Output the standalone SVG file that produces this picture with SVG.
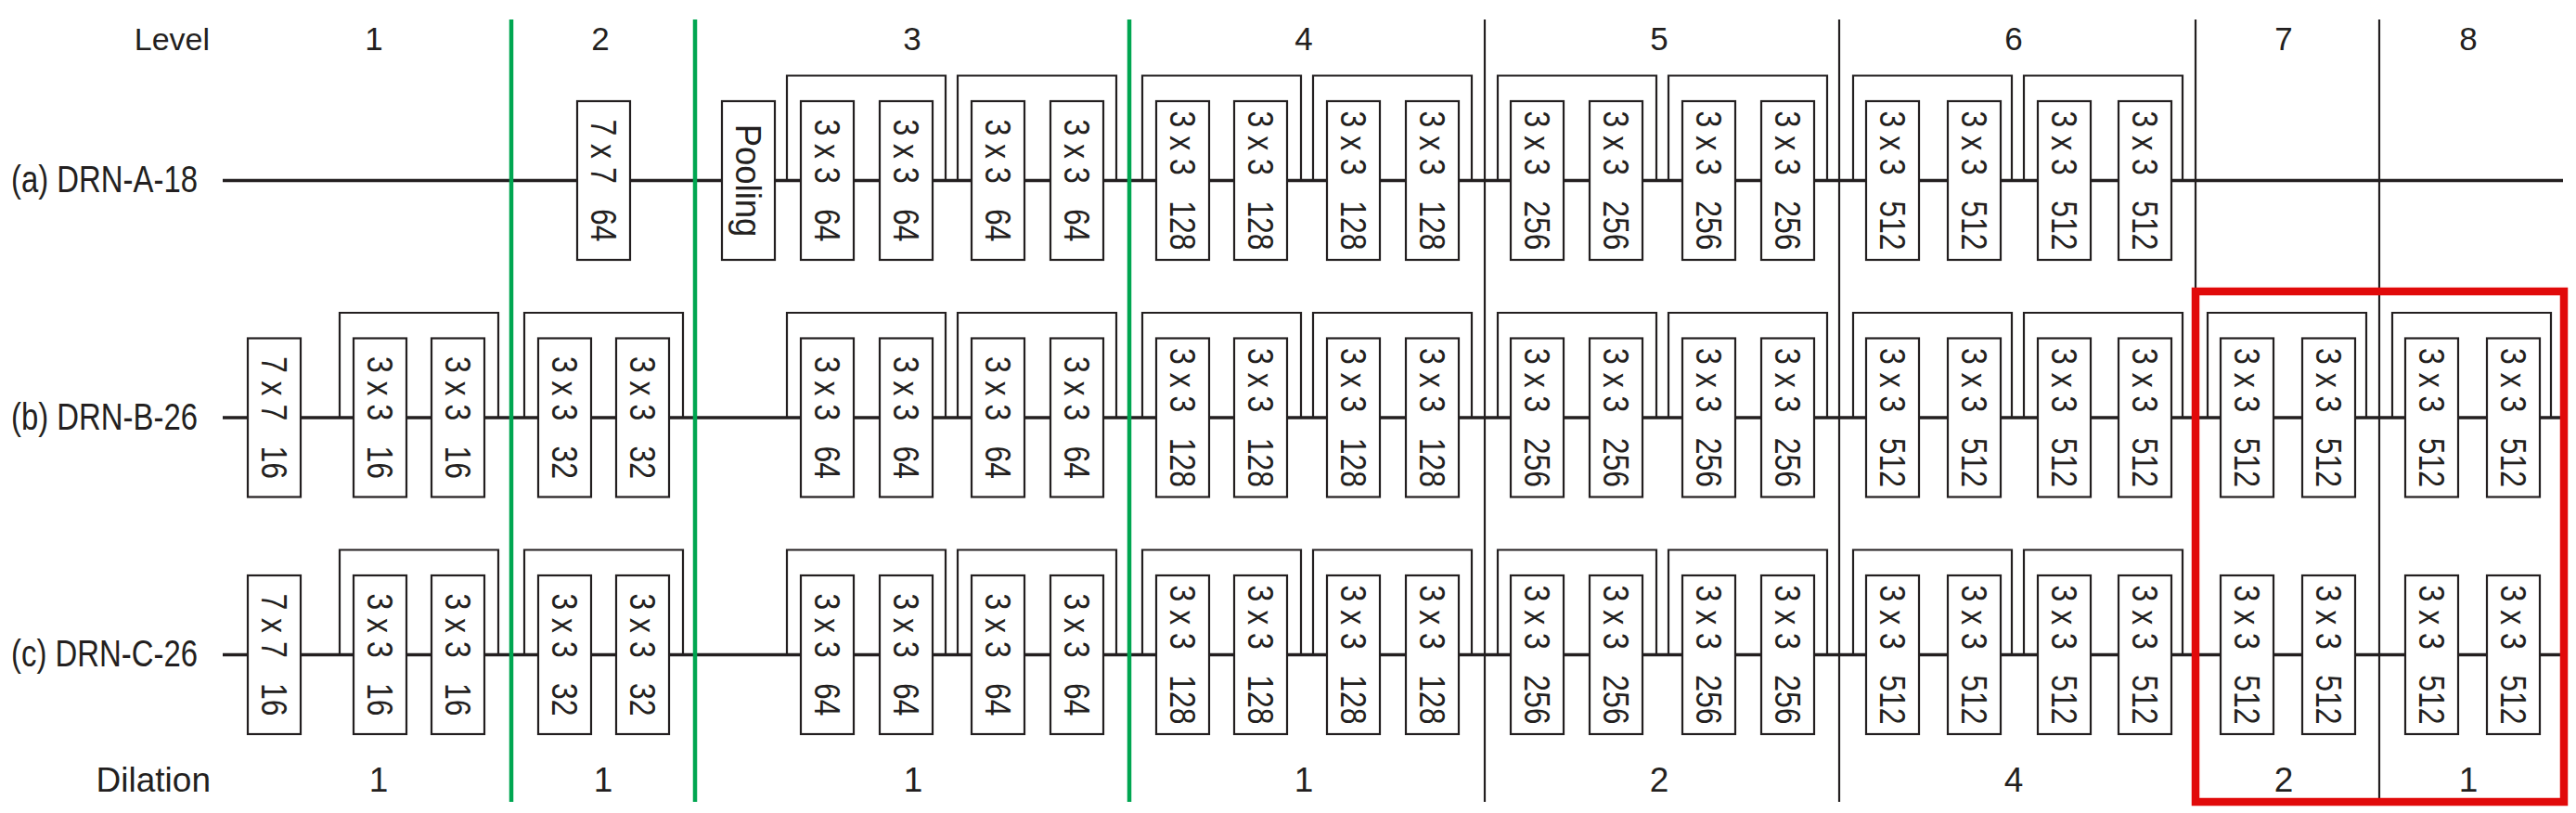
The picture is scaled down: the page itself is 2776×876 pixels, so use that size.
<svg xmlns="http://www.w3.org/2000/svg" xmlns:xlink="http://www.w3.org/1999/xlink" width="2776" height="876" viewBox="0 0 2776 876">
<style>
.ln{stroke:#231f20;stroke-width:3.4;fill:none}
.br{stroke:#231f20;stroke-width:2.2;fill:none}
.bx{fill:#fff;stroke:#231f20;stroke-width:2.2}
.t{font-family:"Liberation Sans",Arial,sans-serif;font-size:38px;fill:#231f20;text-anchor:middle}
.lab{font-family:"Liberation Sans",Arial,sans-serif;font-size:35px;fill:#231f20;text-anchor:middle}
.dil{font-size:37px}
.rl{font-family:"Liberation Sans",Arial,sans-serif;font-size:41px;fill:#231f20}
.g{stroke:#00a651;stroke-width:4.5}
.k{stroke:#231f20;stroke-width:2.2}
.red{fill:none;stroke:#e10a0a;stroke-width:8.5}
</style>
<defs>
<rect id="box" class="bx" width="57" height="171"/>
</defs>
<rect width="2776" height="876" fill="#fff"/>
<g id="connectors">
<path class="ln" d="M240 194.5H2762M240 450H2762M240 705.5H2762"/>
<path class="br" d="M848 194.5V81.5H1019V194.5M1032 194.5V81.5H1203V194.5M1231 194.5V81.5H1402V194.5M1415 194.5V81.5H1586V194.5M1614 194.5V81.5H1785V194.5M1798 194.5V81.5H1969V194.5M1997 194.5V81.5H2168V194.5M2181 194.5V81.5H2352V194.5"/>
<path class="br" d="M366 450V337H537V450M565 450V337H736V450M848 450V337H1019V450M1032 450V337H1203V450M1231 450V337H1402V450M1415 450V337H1586V450M1614 450V337H1785V450M1798 450V337H1969V450M1997 450V337H2168V450M2181 450V337H2352V450M2379 450V337H2550V450M2578 450V337H2749V450"/>
<path class="br" d="M366 705.5V592.5H537V705.5M565 705.5V592.5H736V705.5M848 705.5V592.5H1019V705.5M1032 705.5V592.5H1203V705.5M1231 705.5V592.5H1402V705.5M1415 705.5V592.5H1586V705.5M1614 705.5V592.5H1785V705.5M1798 705.5V592.5H1969V705.5M1997 705.5V592.5H2168V705.5M2181 705.5V592.5H2352V705.5"/>
</g>
<g id="level-lines">
<line class="g" x1="551" y1="21" x2="551" y2="864"/>
<line class="g" x1="749" y1="21" x2="749" y2="864"/>
<line class="g" x1="1217" y1="21" x2="1217" y2="864"/>
<line class="k" x1="1600" y1="21" x2="1600" y2="864"/>
<line class="k" x1="1982" y1="21" x2="1982" y2="864"/>
<line class="k" x1="2366" y1="21" x2="2366" y2="864"/>
<line class="k" x1="2564" y1="21" x2="2564" y2="864"/>
</g>
<g id="row-a">
<g id="a-conv1"><use xlink:href="#box" x="622" y="109"/><text class="t" transform="translate(650.5,194.5) rotate(90) scale(0.84,1)" y="13.6">7 x 7<tspan dx="22"> 64</tspan></text></g>
<g id="a-pool"><use xlink:href="#box" x="778" y="109"/><text class="t" transform="translate(806.5,194.5) rotate(90) scale(0.96,1)" y="13.6">Pooling</text></g>
<g id="a-l3-1"><use xlink:href="#box" x="863" y="109"/><text class="t" transform="translate(891.5,194.5) rotate(90) scale(0.84,1)" y="13.6">3 x 3<tspan dx="22"> 64</tspan></text></g>
<g id="a-l3-2"><use xlink:href="#box" x="948" y="109"/><text class="t" transform="translate(976.5,194.5) rotate(90) scale(0.84,1)" y="13.6">3 x 3<tspan dx="22"> 64</tspan></text></g>
<g id="a-l3-3"><use xlink:href="#box" x="1047" y="109"/><text class="t" transform="translate(1075.5,194.5) rotate(90) scale(0.84,1)" y="13.6">3 x 3<tspan dx="22"> 64</tspan></text></g>
<g id="a-l3-4"><use xlink:href="#box" x="1132" y="109"/><text class="t" transform="translate(1160.5,194.5) rotate(90) scale(0.84,1)" y="13.6">3 x 3<tspan dx="22"> 64</tspan></text></g>
<g id="a-l4-1"><use xlink:href="#box" x="1246" y="109"/><text class="t" transform="translate(1274.5,194.5) rotate(90) scale(0.84,1)" y="13.6">3 x 3<tspan dx="22"> 128</tspan></text></g>
<g id="a-l4-2"><use xlink:href="#box" x="1330" y="109"/><text class="t" transform="translate(1358.5,194.5) rotate(90) scale(0.84,1)" y="13.6">3 x 3<tspan dx="22"> 128</tspan></text></g>
<g id="a-l4-3"><use xlink:href="#box" x="1430" y="109"/><text class="t" transform="translate(1458.5,194.5) rotate(90) scale(0.84,1)" y="13.6">3 x 3<tspan dx="22"> 128</tspan></text></g>
<g id="a-l4-4"><use xlink:href="#box" x="1515" y="109"/><text class="t" transform="translate(1543.5,194.5) rotate(90) scale(0.84,1)" y="13.6">3 x 3<tspan dx="22"> 128</tspan></text></g>
<g id="a-l5-1"><use xlink:href="#box" x="1628" y="109"/><text class="t" transform="translate(1656.5,194.5) rotate(90) scale(0.84,1)" y="13.6">3 x 3<tspan dx="22"> 256</tspan></text></g>
<g id="a-l5-2"><use xlink:href="#box" x="1713" y="109"/><text class="t" transform="translate(1741.5,194.5) rotate(90) scale(0.84,1)" y="13.6">3 x 3<tspan dx="22"> 256</tspan></text></g>
<g id="a-l5-3"><use xlink:href="#box" x="1813" y="109"/><text class="t" transform="translate(1841.5,194.5) rotate(90) scale(0.84,1)" y="13.6">3 x 3<tspan dx="22"> 256</tspan></text></g>
<g id="a-l5-4"><use xlink:href="#box" x="1898" y="109"/><text class="t" transform="translate(1926.5,194.5) rotate(90) scale(0.84,1)" y="13.6">3 x 3<tspan dx="22"> 256</tspan></text></g>
<g id="a-l6-1"><use xlink:href="#box" x="2011" y="109"/><text class="t" transform="translate(2039.5,194.5) rotate(90) scale(0.84,1)" y="13.6">3 x 3<tspan dx="22"> 512</tspan></text></g>
<g id="a-l6-2"><use xlink:href="#box" x="2099" y="109"/><text class="t" transform="translate(2127.5,194.5) rotate(90) scale(0.84,1)" y="13.6">3 x 3<tspan dx="22"> 512</tspan></text></g>
<g id="a-l6-3"><use xlink:href="#box" x="2196" y="109"/><text class="t" transform="translate(2224.5,194.5) rotate(90) scale(0.84,1)" y="13.6">3 x 3<tspan dx="22"> 512</tspan></text></g>
<g id="a-l6-4"><use xlink:href="#box" x="2283" y="109"/><text class="t" transform="translate(2311.5,194.5) rotate(90) scale(0.84,1)" y="13.6">3 x 3<tspan dx="22"> 512</tspan></text></g>
</g>
<g id="row-b">
<g id="b-conv1"><use xlink:href="#box" x="267" y="364.5"/><text class="t" transform="translate(295.5,450) rotate(90) scale(0.84,1)" y="13.6">7 x 7<tspan dx="22"> 16</tspan></text></g>
<g id="b-l1-1"><use xlink:href="#box" x="381" y="364.5"/><text class="t" transform="translate(409.5,450) rotate(90) scale(0.84,1)" y="13.6">3 x 3<tspan dx="22"> 16</tspan></text></g>
<g id="b-l1-2"><use xlink:href="#box" x="465" y="364.5"/><text class="t" transform="translate(493.5,450) rotate(90) scale(0.84,1)" y="13.6">3 x 3<tspan dx="22"> 16</tspan></text></g>
<g id="b-l2-1"><use xlink:href="#box" x="580" y="364.5"/><text class="t" transform="translate(608.5,450) rotate(90) scale(0.84,1)" y="13.6">3 x 3<tspan dx="22"> 32</tspan></text></g>
<g id="b-l2-2"><use xlink:href="#box" x="664" y="364.5"/><text class="t" transform="translate(692.5,450) rotate(90) scale(0.84,1)" y="13.6">3 x 3<tspan dx="22"> 32</tspan></text></g>
<g id="b-l3-1"><use xlink:href="#box" x="863" y="364.5"/><text class="t" transform="translate(891.5,450) rotate(90) scale(0.84,1)" y="13.6">3 x 3<tspan dx="22"> 64</tspan></text></g>
<g id="b-l3-2"><use xlink:href="#box" x="948" y="364.5"/><text class="t" transform="translate(976.5,450) rotate(90) scale(0.84,1)" y="13.6">3 x 3<tspan dx="22"> 64</tspan></text></g>
<g id="b-l3-3"><use xlink:href="#box" x="1047" y="364.5"/><text class="t" transform="translate(1075.5,450) rotate(90) scale(0.84,1)" y="13.6">3 x 3<tspan dx="22"> 64</tspan></text></g>
<g id="b-l3-4"><use xlink:href="#box" x="1132" y="364.5"/><text class="t" transform="translate(1160.5,450) rotate(90) scale(0.84,1)" y="13.6">3 x 3<tspan dx="22"> 64</tspan></text></g>
<g id="b-l4-1"><use xlink:href="#box" x="1246" y="364.5"/><text class="t" transform="translate(1274.5,450) rotate(90) scale(0.84,1)" y="13.6">3 x 3<tspan dx="22"> 128</tspan></text></g>
<g id="b-l4-2"><use xlink:href="#box" x="1330" y="364.5"/><text class="t" transform="translate(1358.5,450) rotate(90) scale(0.84,1)" y="13.6">3 x 3<tspan dx="22"> 128</tspan></text></g>
<g id="b-l4-3"><use xlink:href="#box" x="1430" y="364.5"/><text class="t" transform="translate(1458.5,450) rotate(90) scale(0.84,1)" y="13.6">3 x 3<tspan dx="22"> 128</tspan></text></g>
<g id="b-l4-4"><use xlink:href="#box" x="1515" y="364.5"/><text class="t" transform="translate(1543.5,450) rotate(90) scale(0.84,1)" y="13.6">3 x 3<tspan dx="22"> 128</tspan></text></g>
<g id="b-l5-1"><use xlink:href="#box" x="1628" y="364.5"/><text class="t" transform="translate(1656.5,450) rotate(90) scale(0.84,1)" y="13.6">3 x 3<tspan dx="22"> 256</tspan></text></g>
<g id="b-l5-2"><use xlink:href="#box" x="1713" y="364.5"/><text class="t" transform="translate(1741.5,450) rotate(90) scale(0.84,1)" y="13.6">3 x 3<tspan dx="22"> 256</tspan></text></g>
<g id="b-l5-3"><use xlink:href="#box" x="1813" y="364.5"/><text class="t" transform="translate(1841.5,450) rotate(90) scale(0.84,1)" y="13.6">3 x 3<tspan dx="22"> 256</tspan></text></g>
<g id="b-l5-4"><use xlink:href="#box" x="1898" y="364.5"/><text class="t" transform="translate(1926.5,450) rotate(90) scale(0.84,1)" y="13.6">3 x 3<tspan dx="22"> 256</tspan></text></g>
<g id="b-l6-1"><use xlink:href="#box" x="2011" y="364.5"/><text class="t" transform="translate(2039.5,450) rotate(90) scale(0.84,1)" y="13.6">3 x 3<tspan dx="22"> 512</tspan></text></g>
<g id="b-l6-2"><use xlink:href="#box" x="2099" y="364.5"/><text class="t" transform="translate(2127.5,450) rotate(90) scale(0.84,1)" y="13.6">3 x 3<tspan dx="22"> 512</tspan></text></g>
<g id="b-l6-3"><use xlink:href="#box" x="2196" y="364.5"/><text class="t" transform="translate(2224.5,450) rotate(90) scale(0.84,1)" y="13.6">3 x 3<tspan dx="22"> 512</tspan></text></g>
<g id="b-l6-4"><use xlink:href="#box" x="2283" y="364.5"/><text class="t" transform="translate(2311.5,450) rotate(90) scale(0.84,1)" y="13.6">3 x 3<tspan dx="22"> 512</tspan></text></g>
<g id="b-l7-1"><use xlink:href="#box" x="2393" y="364.5"/><text class="t" transform="translate(2421.5,450) rotate(90) scale(0.84,1)" y="13.6">3 x 3<tspan dx="22"> 512</tspan></text></g>
<g id="b-l7-2"><use xlink:href="#box" x="2481" y="364.5"/><text class="t" transform="translate(2509.5,450) rotate(90) scale(0.84,1)" y="13.6">3 x 3<tspan dx="22"> 512</tspan></text></g>
<g id="b-l8-1"><use xlink:href="#box" x="2592" y="364.5"/><text class="t" transform="translate(2620.5,450) rotate(90) scale(0.84,1)" y="13.6">3 x 3<tspan dx="22"> 512</tspan></text></g>
<g id="b-l8-2"><use xlink:href="#box" x="2680" y="364.5"/><text class="t" transform="translate(2708.5,450) rotate(90) scale(0.84,1)" y="13.6">3 x 3<tspan dx="22"> 512</tspan></text></g>
</g>
<g id="row-c">
<g id="c-conv1"><use xlink:href="#box" x="267" y="620"/><text class="t" transform="translate(295.5,705.5) rotate(90) scale(0.84,1)" y="13.6">7 x 7<tspan dx="22"> 16</tspan></text></g>
<g id="c-l1-1"><use xlink:href="#box" x="381" y="620"/><text class="t" transform="translate(409.5,705.5) rotate(90) scale(0.84,1)" y="13.6">3 x 3<tspan dx="22"> 16</tspan></text></g>
<g id="c-l1-2"><use xlink:href="#box" x="465" y="620"/><text class="t" transform="translate(493.5,705.5) rotate(90) scale(0.84,1)" y="13.6">3 x 3<tspan dx="22"> 16</tspan></text></g>
<g id="c-l2-1"><use xlink:href="#box" x="580" y="620"/><text class="t" transform="translate(608.5,705.5) rotate(90) scale(0.84,1)" y="13.6">3 x 3<tspan dx="22"> 32</tspan></text></g>
<g id="c-l2-2"><use xlink:href="#box" x="664" y="620"/><text class="t" transform="translate(692.5,705.5) rotate(90) scale(0.84,1)" y="13.6">3 x 3<tspan dx="22"> 32</tspan></text></g>
<g id="c-l3-1"><use xlink:href="#box" x="863" y="620"/><text class="t" transform="translate(891.5,705.5) rotate(90) scale(0.84,1)" y="13.6">3 x 3<tspan dx="22"> 64</tspan></text></g>
<g id="c-l3-2"><use xlink:href="#box" x="948" y="620"/><text class="t" transform="translate(976.5,705.5) rotate(90) scale(0.84,1)" y="13.6">3 x 3<tspan dx="22"> 64</tspan></text></g>
<g id="c-l3-3"><use xlink:href="#box" x="1047" y="620"/><text class="t" transform="translate(1075.5,705.5) rotate(90) scale(0.84,1)" y="13.6">3 x 3<tspan dx="22"> 64</tspan></text></g>
<g id="c-l3-4"><use xlink:href="#box" x="1132" y="620"/><text class="t" transform="translate(1160.5,705.5) rotate(90) scale(0.84,1)" y="13.6">3 x 3<tspan dx="22"> 64</tspan></text></g>
<g id="c-l4-1"><use xlink:href="#box" x="1246" y="620"/><text class="t" transform="translate(1274.5,705.5) rotate(90) scale(0.84,1)" y="13.6">3 x 3<tspan dx="22"> 128</tspan></text></g>
<g id="c-l4-2"><use xlink:href="#box" x="1330" y="620"/><text class="t" transform="translate(1358.5,705.5) rotate(90) scale(0.84,1)" y="13.6">3 x 3<tspan dx="22"> 128</tspan></text></g>
<g id="c-l4-3"><use xlink:href="#box" x="1430" y="620"/><text class="t" transform="translate(1458.5,705.5) rotate(90) scale(0.84,1)" y="13.6">3 x 3<tspan dx="22"> 128</tspan></text></g>
<g id="c-l4-4"><use xlink:href="#box" x="1515" y="620"/><text class="t" transform="translate(1543.5,705.5) rotate(90) scale(0.84,1)" y="13.6">3 x 3<tspan dx="22"> 128</tspan></text></g>
<g id="c-l5-1"><use xlink:href="#box" x="1628" y="620"/><text class="t" transform="translate(1656.5,705.5) rotate(90) scale(0.84,1)" y="13.6">3 x 3<tspan dx="22"> 256</tspan></text></g>
<g id="c-l5-2"><use xlink:href="#box" x="1713" y="620"/><text class="t" transform="translate(1741.5,705.5) rotate(90) scale(0.84,1)" y="13.6">3 x 3<tspan dx="22"> 256</tspan></text></g>
<g id="c-l5-3"><use xlink:href="#box" x="1813" y="620"/><text class="t" transform="translate(1841.5,705.5) rotate(90) scale(0.84,1)" y="13.6">3 x 3<tspan dx="22"> 256</tspan></text></g>
<g id="c-l5-4"><use xlink:href="#box" x="1898" y="620"/><text class="t" transform="translate(1926.5,705.5) rotate(90) scale(0.84,1)" y="13.6">3 x 3<tspan dx="22"> 256</tspan></text></g>
<g id="c-l6-1"><use xlink:href="#box" x="2011" y="620"/><text class="t" transform="translate(2039.5,705.5) rotate(90) scale(0.84,1)" y="13.6">3 x 3<tspan dx="22"> 512</tspan></text></g>
<g id="c-l6-2"><use xlink:href="#box" x="2099" y="620"/><text class="t" transform="translate(2127.5,705.5) rotate(90) scale(0.84,1)" y="13.6">3 x 3<tspan dx="22"> 512</tspan></text></g>
<g id="c-l6-3"><use xlink:href="#box" x="2196" y="620"/><text class="t" transform="translate(2224.5,705.5) rotate(90) scale(0.84,1)" y="13.6">3 x 3<tspan dx="22"> 512</tspan></text></g>
<g id="c-l6-4"><use xlink:href="#box" x="2283" y="620"/><text class="t" transform="translate(2311.5,705.5) rotate(90) scale(0.84,1)" y="13.6">3 x 3<tspan dx="22"> 512</tspan></text></g>
<g id="c-l7-1"><use xlink:href="#box" x="2393" y="620"/><text class="t" transform="translate(2421.5,705.5) rotate(90) scale(0.84,1)" y="13.6">3 x 3<tspan dx="22"> 512</tspan></text></g>
<g id="c-l7-2"><use xlink:href="#box" x="2481" y="620"/><text class="t" transform="translate(2509.5,705.5) rotate(90) scale(0.84,1)" y="13.6">3 x 3<tspan dx="22"> 512</tspan></text></g>
<g id="c-l8-1"><use xlink:href="#box" x="2592" y="620"/><text class="t" transform="translate(2620.5,705.5) rotate(90) scale(0.84,1)" y="13.6">3 x 3<tspan dx="22"> 512</tspan></text></g>
<g id="c-l8-2"><use xlink:href="#box" x="2680" y="620"/><text class="t" transform="translate(2708.5,705.5) rotate(90) scale(0.84,1)" y="13.6">3 x 3<tspan dx="22"> 512</tspan></text></g>
</g>
<g id="labels">
<text class="lab" x="226" y="54" style="text-anchor:end;font-size:34px">Level</text>
<text class="lab" x="403" y="54">1</text>
<text class="lab" x="647" y="54">2</text>
<text class="lab" x="983" y="54">3</text>
<text class="lab" x="1405" y="54">4</text>
<text class="lab" x="1788" y="54">5</text>
<text class="lab" x="2170" y="54">6</text>
<text class="lab" x="2461" y="54">7</text>
<text class="lab" x="2660" y="54">8</text>
<text class="rl" x="12" y="207" textLength="201" lengthAdjust="spacingAndGlyphs">(a) DRN-A-18</text>
<text class="rl" x="12" y="462.5" textLength="201" lengthAdjust="spacingAndGlyphs">(b) DRN-B-26</text>
<text class="rl" x="12" y="718" textLength="201" lengthAdjust="spacingAndGlyphs">(c) DRN-C-26</text>
<text class="lab dil" x="227" y="853" style="text-anchor:end">Dilation</text>
<text class="lab dil" x="408" y="853">1</text>
<text class="lab dil" x="650" y="853">1</text>
<text class="lab dil" x="984" y="853">1</text>
<text class="lab dil" x="1405" y="853">1</text>
<text class="lab dil" x="1788" y="853">2</text>
<text class="lab dil" x="2170" y="853">4</text>
<text class="lab dil" x="2461" y="853">2</text>
<text class="lab dil" x="2660" y="853">1</text>
</g>
<g id="highlight">
<rect class="red" x="2366" y="314" width="397" height="550"/>
</g>
</svg>
